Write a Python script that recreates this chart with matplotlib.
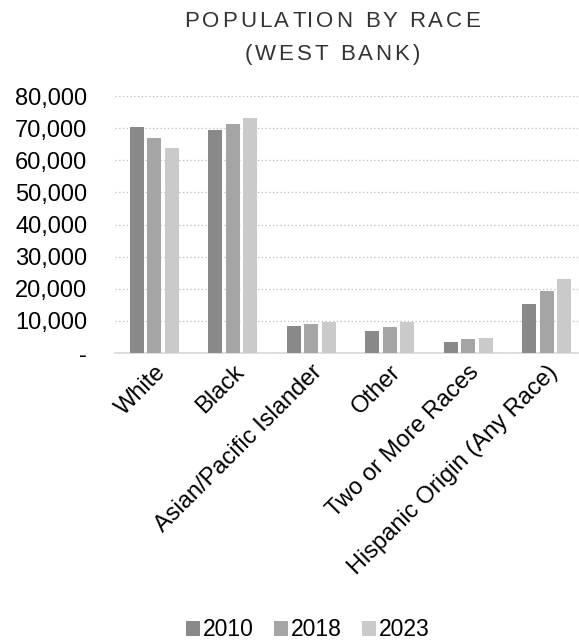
import numpy as np
import matplotlib.pyplot as plt
from matplotlib.ticker import FuncFormatter
from matplotlib.font_manager import FontProperties

categories = ["White", "Black", "Asian/Pacific Islander", "Other",
              "Two or More Races", "Hispanic Origin (Any Race)"]
years = ["2010", "2018", "2023"]
pop_2010 = [70260, 69420, 8300, 6740, 3320, 15150]
pop_2018 = [66820, 71380, 9030, 8090, 4260, 19290]
pop_2023 = [63810, 73150, 9650, 9650, 4780, 23030]
colors = ["#898989", "#a5a5a5", "#cacaca"]
title_lines = ["POPULATION BY RACE", "(WEST BANK)"]

W, H = 579, 643
plt.rcParams['font.family'] = ['Liberation Sans', 'DejaVu Sans']
fs = 17

fig = plt.figure(figsize=(W / 100, H / 100), dpi=100)
ax = fig.add_axes([115 / W, 1 - 353 / H, 464 / W, 257 / H])

x = np.arange(len(categories))
width = 0.178
step = 0.223
for i, (vals, yr) in enumerate(zip([pop_2010, pop_2018, pop_2023], years)):
    ax.bar(x + (i - 1) * step, vals, width, color=colors[i], label=yr, zorder=3)

ax.set_xlim(-0.5, 5.41)
ax.set_ylim(0, 80000)
ax.set_yticks(np.arange(0, 80001, 10000))
ax.yaxis.set_major_formatter(FuncFormatter(lambda v, p: "-" if v == 0 else f"{int(v):,}"))
ax.grid(axis='y', color='#bfbfbf', linestyle=(0, (1, 2)), linewidth=0.9, zorder=0)
for s in ['top', 'right', 'left']:
    ax.spines[s].set_visible(False)
ax.spines['bottom'].set_color('#d9d9d9')
ax.spines['bottom'].set_linewidth(1.2)
ax.tick_params(axis='both', length=0, labelsize=fs, colors='black')
ax.tick_params(axis='y', pad=20)

ax.set_xticks(x)
ax.set_xticklabels(categories, rotation=45, ha='right', rotation_mode='anchor', fontsize=fs)
ax.tick_params(axis='x', pad=6)

# title with letter spacing, drawn char by char
renderer = fig.canvas.get_renderer()
prop = FontProperties(family=['Liberation Sans'], size=16)
def adv(s):
    wx = renderer.get_text_width_height_descent("X", prop, ismath=False)[0]
    return renderer.get_text_width_height_descent(s + "X", prop, ismath=False)[0] - wx

spacing = 3.0
for line, base_y in zip(title_lines, [27, 60]):
    total = adv(line) + (len(line) - 1) * spacing
    x0 = 332 - total / 2
    for i, ch in enumerate(line):
        if ch == " ":
            continue
        px = x0 + adv(line[:i]) + i * spacing
        fig.text(px / W, 1 - base_y / H, ch, fontproperties=prop, ha='left', va='baseline',
                 color='#333333')

fig.legend(loc='center', bbox_to_anchor=(307.5 / W, 1 - 630 / H), ncol=3, frameon=False,
           fontsize=16.5, handlelength=0.65, handleheight=0.65, handletextpad=0.1,
           columnspacing=0.87)

fig.savefig("out.png", dpi=100)
